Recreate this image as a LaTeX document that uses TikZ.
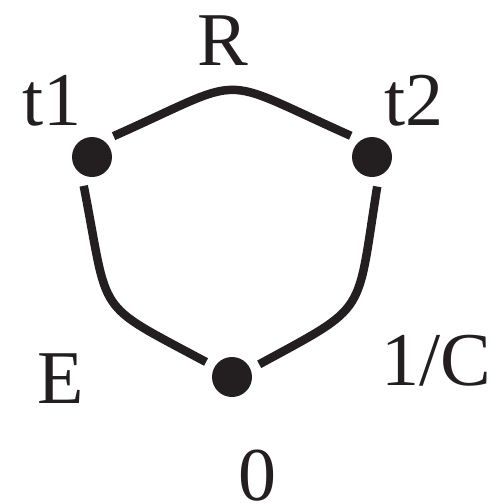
\documentclass[tikz,border=0pt]{standalone}
\usepackage{fontspec}
\setmainfont{Liberation Serif}
\usepackage{tikz}
\definecolor{ink}{RGB}{35,31,32}
\tikzset{
    dot/.style={circle, fill=ink, minimum size=40pt, inner sep=0pt, outer sep=10pt},
    lbl/.style={anchor=base, inner sep=0pt, text=ink, font=\fontsize{76}{80}\selectfont},
    wire/.style={draw=ink, line width=8.5pt}
}
\begin{document}
\begin{tikzpicture}[x=1pt, y=-1pt]
    \useasboundingbox (0,0) rectangle (502,504);

    % 三个节点
    \node[dot] (t1) at (92,157) {};
    \node[dot] (t2) at (372,157) {};
    \node[dot] (n0) at (232,377) {};

    % 标注
    \node[lbl] (lR) at (223,65) {R};
    \node[lbl] (lt1) at (52,125) {t1};
    \node[lbl] (lt2) at (414,125) {t2};
    \node[lbl] (lE) at (61,403) {E};
    \node[lbl] (lC) at (436,385) {1/C};
    \node[lbl] (l0) at (257,500) {0};

    % 连线
    \draw[wire] (t1.44) .. controls +(138,-61.5) and +(-138,-61.5) .. (t2.135);
    \draw[wire] (t1.254) .. controls +(26,133) and +(-113.5,-61) .. (n0.150);
    \draw[wire] (t2.280) .. controls +(-21,131) and +(110,-60) .. (n0.25);
\end{tikzpicture}
\end{document}
